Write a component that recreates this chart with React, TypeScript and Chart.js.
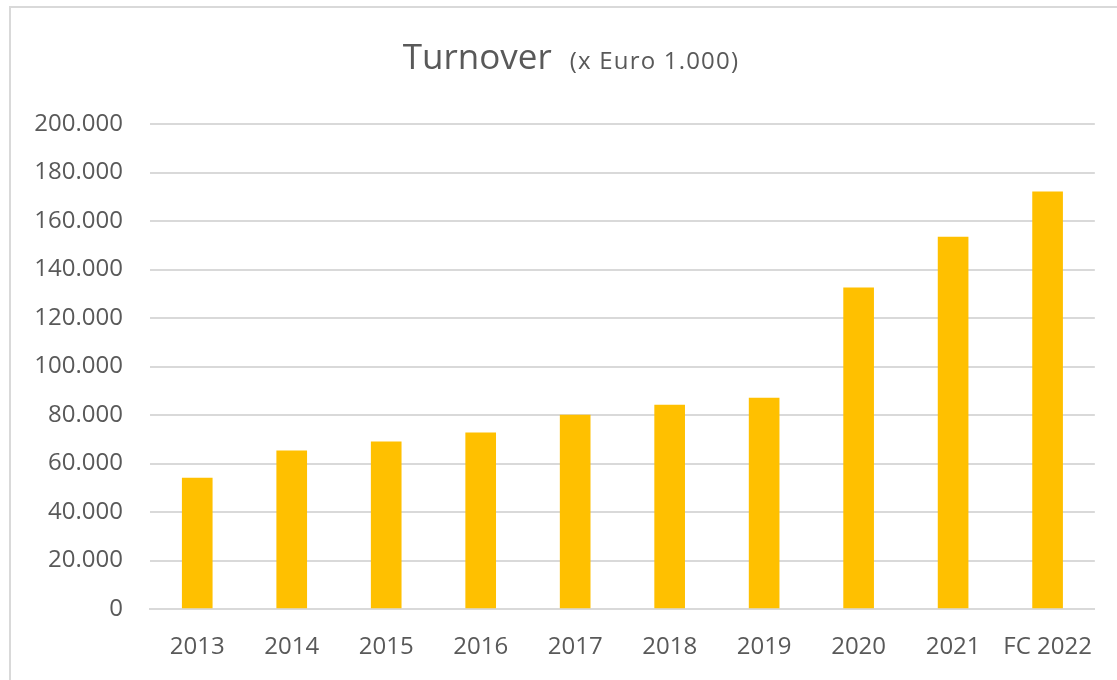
import React, { useEffect, useRef } from "react";
import { Chart, registerables } from "chart.js";

Chart.register(...registerables);

const categories = ["2013", "2014", "2015", "2016", "2017", "2018", "2019", "2020", "2021", "FC 2022"];
const turnover = [54000, 65200, 68900, 72600, 80000, 84100, 87000, 132400, 153400, 172000];
const titleMain = "Turnover";
const titleSub = "(x Euro 1.000)";

const FONT = "'Open Sans', sans-serif";
const TEXT = "#595959";

function fmt(v: number): string {
  const s = Math.round(v).toString();
  return s.replace(/\B(?=(\d{3})+(?!\d))/g, ".");
}

const framePlugin = {
  id: "frame",
  beforeDraw(chart: any) {
    const ctx = chart.ctx;
    ctx.save();
    ctx.fillStyle = "#ffffff";
    ctx.fillRect(0, 0, chart.width, chart.height);
    ctx.strokeStyle = "#d9d9d9";
    ctx.lineWidth = 2;
    ctx.strokeRect(10, 7, 1400, 1000);
    ctx.restore();
  },
  afterDraw(chart: any) {
    const ctx = chart.ctx as any;
    ctx.save();
    ctx.fillStyle = TEXT;
    ctx.textBaseline = "alphabetic";
    ctx.textAlign = "left";
    ctx.font = `35px ${FONT}`;
    ctx.letterSpacing = "0px";
    const w1 = ctx.measureText(titleMain).width;
    ctx.font = `24px ${FONT}`;
    ctx.letterSpacing = "1.2px";
    const w2 = ctx.measureText(titleSub).width;
    const gap = 18;
    const total = w1 + gap + w2;
    const start = 571 - total / 2;
    ctx.font = `35px ${FONT}`;
    ctx.letterSpacing = "0px";
    ctx.fillText(titleMain, start, 69);
    ctx.font = `24px ${FONT}`;
    ctx.letterSpacing = "1.2px";
    ctx.fillText(titleSub, start + w1 + gap, 69);
    ctx.restore();
  },
};

export default function App() {
  const ref = useRef<HTMLCanvasElement | null>(null);
  useEffect(() => {
    if (!ref.current) return;
    const chart = new Chart(ref.current, {
      type: "bar",
      data: {
        labels: categories,
        datasets: [
          {
            label: "Turnover",
            data: turnover,
            backgroundColor: "#FFC000",
            barThickness: 30,
          },
        ],
      },
      options: {
        animation: false,
        responsive: false,
        maintainAspectRatio: false,
        layout: { padding: { top: 124, right: 22, bottom: 0, left: 0 } },
        plugins: {
          legend: { display: false },
          title: { display: false },
          tooltip: { enabled: false },
        },
        scales: {
          x: {
            afterFit(scale: any) {
              scale.height = 71;
            },
            grid: { display: false, drawTicks: false },
            border: { display: true, color: "#d9d9d9", width: 2 },
            ticks: {
              color: TEXT,
              font: { family: FONT, size: 24 },
              padding: 24,
              maxRotation: 0,
              autoSkip: false,
            },
          },
          y: {
            min: 0,
            max: 200000,
            afterFit(scale: any) {
              scale.width = 150;
            },
            grid: { color: "#d9d9d9", lineWidth: 2, drawTicks: false },
            border: { display: false },
            ticks: {
              stepSize: 20000,
              color: TEXT,
              font: { family: FONT, size: 24 },
              padding: 27,
              callback: (v: any) => fmt(Number(v)),
            },
          },
        },
      },
      plugins: [framePlugin],
    });
    return () => chart.destroy();
  }, []);
  return (
    <canvas
      ref={ref}
      width={1117}
      height={680}
      style={{ position: "absolute", left: 0, top: 0, width: 1117, height: 680 }}
    />
  );
}
